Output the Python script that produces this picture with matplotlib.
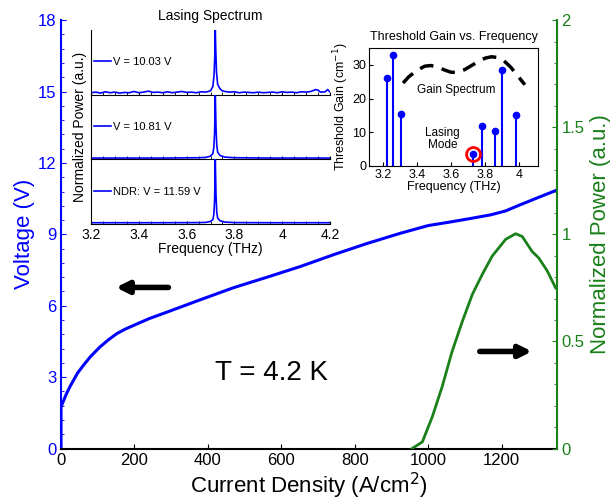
import numpy as np
import matplotlib.pyplot as plt
from matplotlib.ticker import MultipleLocator

plt.rcParams['font.family'] = ['Liberation Sans', 'DejaVu Sans']

# curva V-J (azul) y potencia (verde)
j_volt = [0, 0, 8, 15, 25, 34, 45, 61, 80, 106, 130, 152, 175, 197, 240, 288, 379, 470,
          561, 652, 743, 834, 925, 1000, 1060, 1120, 1170, 1210, 1250, 1300, 1347]
volt = [0, 1.75, 2.05, 2.31, 2.62, 2.87, 3.17, 3.50, 3.86, 4.27, 4.58, 4.83, 5.02, 5.17,
        5.46, 5.73, 6.25, 6.76, 7.20, 7.65, 8.15, 8.62, 9.05, 9.37, 9.52, 9.68, 9.82,
        9.98, 10.24, 10.55, 10.84]

j_pow = [956, 984, 1011, 1038, 1065, 1093, 1120, 1147, 1174, 1211, 1238, 1256,
         1283, 1301, 1324, 1347]
pot = [0, 0.031, 0.148, 0.289, 0.453, 0.594, 0.719, 0.8125, 0.898, 0.977, 1.003, 0.99,
       0.92, 0.89, 0.83, 0.75]

# espectros de emision
freq_a = [3.20, 3.22, 3.24, 3.26, 3.28, 3.30, 3.32, 3.34, 3.36, 3.38, 3.40, 3.42, 3.44,
          3.46, 3.48, 3.50, 3.52, 3.54, 3.56, 3.58, 3.60, 3.62, 3.64, 3.66, 3.68, 3.70,
          3.71, 3.715, 3.718, 3.72, 3.722, 3.725, 3.73, 3.74, 3.75, 3.76, 3.78, 3.80,
          3.82, 3.84, 3.86, 3.88, 3.90, 3.92, 3.94, 3.96, 3.98, 4.00, 4.02, 4.04, 4.06,
          4.08, 4.10, 4.12, 4.14, 4.15, 4.16, 4.18, 4.19, 4.20]
p_1 = [0.02, 0.03, 0.015, 0.035, 0.02, 0.03, 0.015, 0.025, 0.02, 0.04, 0.02, 0.03, 0.045,
       0.025, 0.03, 0.02, 0.035, 0.02, 0.03, 0.04, 0.025, 0.03, 0.02, 0.035, 0.03, 0.05,
       0.12, 0.30, 0.60, 1.0, 0.70, 0.35, 0.15, 0.08, 0.05, 0.04, 0.03, 0.035, 0.02, 0.03,
       0.025, 0.02, 0.03, 0.02, 0.025, 0.03, 0.02, 0.035, 0.025, 0.03, 0.02, 0.035, 0.03,
       0.04, 0.07, 0.06, 0.03, 0.035, 0.07, 0.03]
freq_b = [3.20, 3.50, 3.65, 3.68, 3.70, 3.71, 3.714, 3.717, 3.719, 3.72, 3.721, 3.723,
          3.726, 3.73, 3.74, 3.76, 3.80, 3.95, 4.20]
p_2 = [0.01, 0.01, 0.015, 0.02, 0.04, 0.08, 0.18, 0.40, 0.75, 1.0, 0.85, 0.50, 0.22, 0.10,
       0.05, 0.025, 0.015, 0.01, 0.01]
p_3 = [0.01, 0.01, 0.012, 0.015, 0.03, 0.06, 0.14, 0.35, 0.72, 1.0, 0.82, 0.45, 0.18, 0.08,
       0.04, 0.02, 0.012, 0.01, 0.01]
etiquetas = ['V = 10.03 V', 'V = 10.81 V', 'NDR: V = 11.59 V']

# ganancia umbral
f_modo = [3.225, 3.259, 3.304, 3.729, 3.780, 3.855, 3.90, 3.98]
g_modo = [26.0, 33.0, 15.3, 3.7, 11.8, 10.3, 28.4, 15.0]
f_gan = [3.318, 3.35, 3.40, 3.445, 3.48, 3.52, 3.56, 3.60, 3.64, 3.68, 3.72, 3.76, 3.80,
         3.837, 3.87, 3.91, 3.95, 3.99, 4.033]
g_gan = [24.6, 26.4, 28.4, 29.6, 29.8, 29.4, 28.5, 27.8, 27.8, 28.6, 29.8, 31.0, 32.0,
         32.4, 32.2, 31.2, 29.3, 26.8, 24.1]

azul = '#0000ff'
verde = '#1a801a'

fig = plt.figure(figsize=(6.12, 5.04), dpi=100)
ax = fig.add_axes([0.0997, 0.110, 0.810, 0.850])
ax.plot(j_volt, volt, color=azul, lw=2.2)
ax.set_xlim(0, 1350)
ax.set_ylim(0, 18)
ax.set_yticks(np.arange(0, 19, 3))
ax.set_xticks(np.arange(0, 1201, 200))
ax.yaxis.set_minor_locator(MultipleLocator(0.6))
ax.spines['top'].set_visible(False)
ax.spines['right'].set_visible(False)
ax.spines['left'].set_color(azul)
ax.spines['left'].set_linewidth(1.5)
ax.spines['bottom'].set_linewidth(1.5)
ax.tick_params(axis='y', which='both', direction='in', colors=azul, labelsize=12)
ax.tick_params(axis='y', which='minor', length=2)
ax.tick_params(axis='x', direction='in', labelsize=12)
ax.set_xlabel('Current Density (A/cm$^2$)', fontsize=16, labelpad=2)
ax.set_ylabel('Voltage (V)', fontsize=16, color=azul, labelpad=2)

ax2 = ax.twinx()
ax2.plot(j_pow, pot, color=verde, lw=2)
ax2.set_ylim(0, 2)
ax2.set_yticks([0, 0.5, 1, 1.5, 2])
ax2.set_yticklabels(['0', '0.5', '1', '1.5', '2'])
ax2.yaxis.set_minor_locator(MultipleLocator(0.1))
for s in ['top', 'left', 'bottom']:
    ax2.spines[s].set_visible(False)
ax2.spines['right'].set_color(verde)
ax2.spines['right'].set_linewidth(1.5)
ax2.tick_params(axis='y', which='both', direction='in', colors=verde, labelsize=12)
ax2.tick_params(axis='y', which='minor', length=2)
ax2.set_ylabel('Normalized Power (a.u.)', fontsize=16, color=verde, labelpad=4)

ax.annotate('', xy=(142, 6.77), xytext=(300, 6.77),
            arrowprops=dict(arrowstyle='-|>', color='black', lw=4, mutation_scale=18))
ax.annotate('', xy=(1290, 4.08), xytext=(1133, 4.08),
            arrowprops=dict(arrowstyle='-|>', color='black', lw=4, mutation_scale=18))
ax.text(573, 3.18, 'T = 4.2 K', fontsize=20, ha='center', va='center')

# inset espectros
izq, ancho = 91 / 612, 239 / 612
arriba, alto = 1 - 30 / 504, 194 / 504 / 3
for i, (f, p, et) in enumerate(zip([freq_a, freq_b, freq_b], [p_1, p_2, p_3], etiquetas)):
    axi = fig.add_axes([izq, arriba - (i + 1) * alto, ancho, alto])
    axi.plot(f, p, color=azul, lw=1.2, label=et)
    axi.set_xlim(3.2, 4.2)
    axi.set_ylim(-0.01, 1.0)
    axi.set_yticks([])
    axi.xaxis.set_major_locator(MultipleLocator(0.2))
    axi.xaxis.set_minor_locator(MultipleLocator(0.05))
    axi.tick_params(axis='x', which='both', direction='in', length=2, labelsize=10, pad=3)
    axi.spines['top'].set_visible(False)
    axi.spines['right'].set_visible(False)
    axi.patch.set_alpha(0)
    axi.legend(loc='center left', frameon=False, fontsize=8, handlelength=1.5,
               handletextpad=0.2, borderaxespad=0.1, borderpad=0.2)
    if i == 0:
        axi.set_title('Lasing Spectrum', fontsize=10, pad=7)
    if i == 1:
        axi.set_ylabel('Normalized Power (a.u.)', fontsize=10, labelpad=3)
    if i < 2:
        axi.set_xticklabels([])
    else:
        axi.set_xticks([3.2, 3.4, 3.6, 3.8, 4.0, 4.2])
        axi.set_xticklabels(['3.2', '3.4', '3.6', '3.8', '4', '4.2'])
        axi.set_xlabel('Frequency (THz)', fontsize=10, labelpad=0)

# inset ganancia umbral
axg = fig.add_axes([369 / 612, 1 - 166 / 504, 169 / 612, 118 / 504])
mk, st, bl = axg.stem(f_modo, g_modo, linefmt='-', markerfmt='o', basefmt=' ')
plt.setp(st, color=azul, lw=1.5)
plt.setp(mk, color=azul, markersize=4.5)
axg.plot(f_gan, g_gan, color='black', lw=2.5, dashes=(4, 2.5))
axg.plot(f_modo[3], g_modo[3], 'o', mfc='none', mec='red', mew=2, ms=10)
axg.set_xlim(3.118, 4.11)
axg.set_ylim(0, 35)
axg.set_xticks([3.2, 3.4, 3.6, 3.8, 4.0])
axg.set_xticklabels(['3.2', '3.4', '3.6', '3.8', '4'])
axg.set_yticks([0, 10, 20, 30])
axg.tick_params(direction='in', labelsize=9, pad=2, length=3)
axg.set_title('Threshold Gain vs. Frequency', fontsize=9, pad=6)
axg.set_xlabel('Frequency (THz)', fontsize=9, labelpad=0)
axg.set_ylabel('Threshold Gain (cm$^{-1}$)', fontsize=9, labelpad=1)
axg.text(3.63, 22.6, 'Gain Spectrum', fontsize=8.5, ha='center', va='center')
axg.text(3.55, 8.0, 'Lasing\nMode', fontsize=8.5, ha='center', va='center', linespacing=1.1)

plt.savefig('out.png', dpi=100)
